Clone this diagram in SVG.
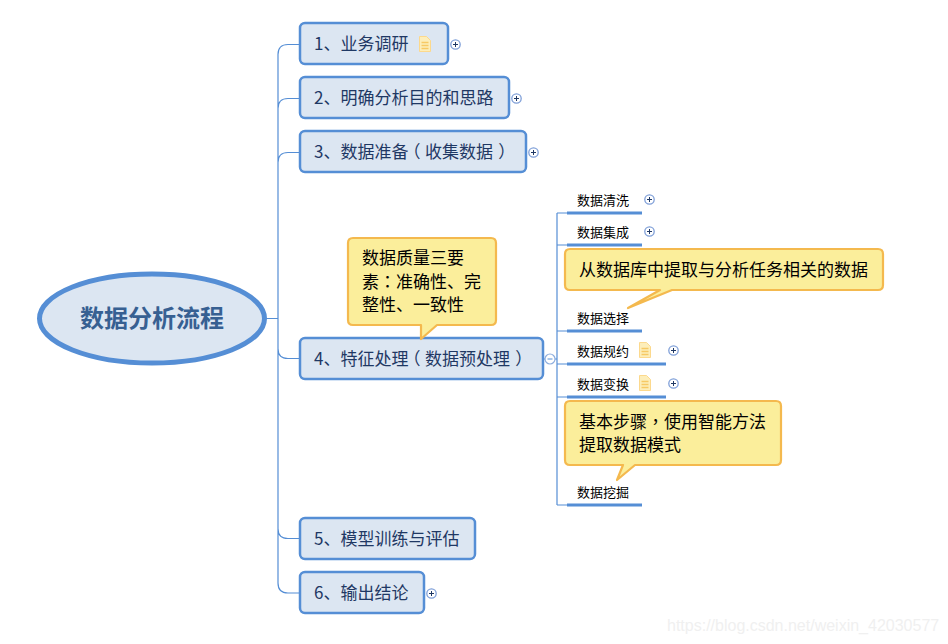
<svg xmlns="http://www.w3.org/2000/svg" width="948" height="644" viewBox="0 0 948 644">
<style>
text{font-family:"Microsoft YaHei","Noto Sans CJK SC","Noto Sans",sans-serif}
.p{font-family:"Noto Sans CJK TC","Noto Sans CJK SC",sans-serif}
.q{font-feature-settings:"palt"}
.box{fill:#dce6f2;stroke:#558ed5;stroke-width:2.5}
.bt{font-size:17px;fill:#1f3864}
.st{font-size:13px;fill:#000}
.ct{font-size:17px;fill:#000}
.call{fill:#fbee9b;stroke:#f4b94e;stroke-width:2.2;stroke-linejoin:round}
.conn{fill:none;stroke:#558ed5;stroke-width:1.2}
.ul{stroke:#558ed5;stroke-width:3;fill:none}
</style>
<defs>
<g id="plus"><circle r="4.700" fill="#fff" stroke="#7f9fd8" stroke-width="1.300"/><path d="M-2.500 0H2.500M0 -2.500V2.500" stroke="#1f3864" stroke-width="1"/></g>
<g id="note"><path d="M0.500 0.500H7.500L11.500 4.500V15.500H0.500Z" fill="#fdeeba" stroke="#fcd98d" stroke-width="1"/><path d="M2.500 6.500H9.500M2.500 9.500H9.500M2.500 12.500H9.500" stroke="#f7c964" stroke-width="1.400"/></g>
</defs>
<rect width="948" height="644" fill="#fff"/>
<g id="connectors">
<path class="conn" d="M267 318.500H278M299 44.500H288Q278 44.500 278 54.500V583Q278 593 288 593H299M278 108.500Q278 98.500 288 98.500H299M278 162.500Q278 152.500 288 152.500H299M278 348.500Q278 358.500 288 358.500H299M278 528.500Q278 538.500 288 538.500H299"/>
<path class="conn" d="M543 359H545M555 359H557M557 213V505M557 213H567M557 245H567M557 331H567M557 364H567M557 397H567M557 505H567"/>
</g>
<g id="root"><ellipse cx="152" cy="318.500" rx="112.500" ry="44.500" fill="#dce6f2" stroke="#558ed5" stroke-width="5"/><text x="152" y="327" font-size="24" font-weight="700" fill="#376092" text-anchor="middle">数据分析流程</text></g>
<g id="n1"><rect class="box" x="300" y="23" width="148" height="41" rx="5"/><text class="bt" x="314" y="50">1、业务调研</text><use href="#note" x="419" y="36"/><use href="#plus" x="455.500" y="44.500"/></g>
<g id="n2"><rect class="box" x="300" y="77" width="209" height="41" rx="5"/><text class="bt" x="314" y="104">2、明确分析目的和思路</text><use href="#plus" x="516.500" y="98.500"/></g>
<g id="n3"><rect class="box" x="300" y="131" width="226" height="41" rx="5"/><text class="bt" x="314" y="158">3、数据准备<tspan class="p q" dx="3">（</tspan><tspan dx="5">收集数据</tspan><tspan class="p q" dx="6">）</tspan></text><use href="#plus" x="533.500" y="152.500"/></g>
<g id="n4"><rect class="box" x="300" y="338" width="243" height="41" rx="5"/><text class="bt" x="314" y="365">4、特征处理<tspan class="p q" dx="3">（</tspan><tspan dx="5">数据预处理</tspan><tspan class="p q" dx="6">）</tspan></text><g transform="translate(550 359)"><circle r="5" fill="#fff" stroke="#8eaede" stroke-width="1.200"/><path d="M-2.500 0H2.500" stroke="#558ed5" stroke-width="1"/></g></g>
<g id="n5"><rect class="box" x="300" y="518" width="175" height="41" rx="5"/><text class="bt" x="314" y="545">5、模型训练与评估</text></g>
<g id="n6"><rect class="box" x="300" y="572" width="124" height="41" rx="5"/><text class="bt" x="314" y="599">6、输出结论</text><use href="#plus" x="431.500" y="593.500"/></g>
<g id="s1"><text class="st" x="577" y="204.500">数据清洗</text><path class="ul" d="M567 213H642"/><use href="#plus" x="649.500" y="199.500"/></g>
<g id="s2"><text class="st" x="577" y="236.500">数据集成</text><path class="ul" d="M567 245H642"/><use href="#plus" x="649.500" y="231.500"/></g>
<g id="s3"><text class="st" x="577" y="322.500">数据选择</text><path class="ul" d="M567 331H642"/></g>
<g id="s4"><text class="st" x="577" y="355.500">数据规约</text><path class="ul" d="M567 364H666"/><use href="#note" x="639" y="342"/><use href="#plus" x="673.500" y="350.500"/></g>
<g id="s5"><text class="st" x="577" y="388.500">数据变换</text><path class="ul" d="M567 397H666"/><use href="#note" x="639" y="375"/><use href="#plus" x="673.500" y="383.500"/></g>
<g id="s6"><text class="st" x="577" y="496.500">数据挖掘</text><path class="ul" d="M567 505H642"/></g>
<g id="c1"><path class="call" d="M353 238H491Q496 238 496 243V320Q496 325 491 325H437L421 339V325H353Q348 325 348 320V243Q348 238 353 238Z"/><text class="ct" x="362" y="264">数据质量三要</text><text class="ct" x="362" y="288">素<tspan class="p">：</tspan>准确性、完</text><text class="ct" x="362" y="311">整性、一致性</text></g>
<g id="c2"><path class="call" d="M570 249H878Q883 249 883 254V285Q883 290 878 290H672L628 308L660 290H570Q565 290 565 285V254Q565 249 570 249Z"/><text class="ct" x="579" y="276">从数据库中提取与分析任务相关的数据</text></g>
<g id="c3"><path class="call" d="M570 401H776Q781 401 781 406V460Q781 465 776 465H635L617 480L623 465H570Q565 465 565 460V406Q565 401 570 401Z"/><text class="ct" x="579" y="428">基本步骤<tspan class="p">，</tspan>使用智能方法</text><text class="ct" x="579" y="451">提取数据模式</text></g>
<text x="667" y="631" font-size="16" fill="#f0f0f0" style="font-family:'Liberation Sans',sans-serif">https://blog.csdn.net/weixin_42030577</text>
</svg>
